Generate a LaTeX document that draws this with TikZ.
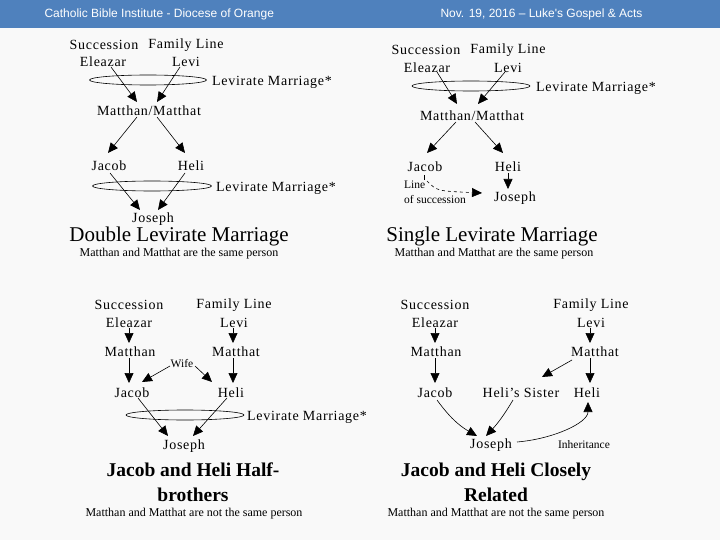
\documentclass[tikz,border=0pt]{standalone}
\usepackage{fontspec}
\setmainfont{Liberation Serif}
\newfontfamily\hdrfont{Liberation Sans}
\newfontfamily\lblfont[LetterSpace=5]{Liberation Serif}
\usepackage{tikz}
\usepackage{xcolor}
\usetikzlibrary{calc,arrows.meta,positioning,shapes.geometric}
\definecolor{bandBlue}{RGB}{79,129,189}
\definecolor{pageGray}{RGB}{249,249,249}
\tikzset{
  lbl/.style={font=\lblfont\fontsize{14}{16}\selectfont,inner sep=1pt},
  smalllbl/.style={font=\fontsize{11.5}{15}\selectfont,inner sep=1pt},
  ttl/.style={font=\fontsize{21}{25}\selectfont,inner sep=0pt},
  bttl/.style={font=\bfseries\fontsize{19.5}{25}\selectfont,align=center,inner sep=0pt},
  note/.style={font=\fontsize{12}{14}\selectfont,inner sep=0pt},
  ring/.style={draw,ellipse,inner sep=0pt,minimum width=117pt,minimum height=10pt,line width=0.6pt},
  arr/.style={-{Triangle[length=10pt,width=9pt]},line width=0.6pt},
  hdr/.style={anchor=west,text=white,font=\hdrfont\fontsize{12}{14}\selectfont},
}

\begin{document}
\begin{tikzpicture}[x=1pt,y=-1pt]
\useasboundingbox (0,0) rectangle (720,540);
\fill[pageGray] (0,0) rectangle (720,540);
\fill[bandBlue] (0,0) rectangle (720,28);
\node[hdr] (hdrL) at (41,14) {Catholic Bible Institute - Diocese of Orange};
\node[hdr] (hdrR) at (437,14) {Nov. 19, 2016 – Luke's Gospel \& Acts};

\node[lbl] (succ1) at (104,45) {Succession};
\node[lbl] (fam1) at (186,45) {Family Line};
\node[lbl] (ele1) at (103,62) {Eleazar};
\node[lbl] (levi1) at (186,62) {Levi};
\node[ring] (ringA) at (148,80) {};
\node[lbl,anchor=west] (lmA) at (211,82) {Levirate Marriage*};
\node[lbl] (mm1) at (149,111) {Matthan/Matthat};
\node[lbl] (jac1) at (109,166) {Jacob};
\node[lbl] (hel1) at (191,166) {Heli};
\node[ring,minimum width=119pt] (ringB) at (152,186) {};
\node[lbl,anchor=west] (lmB) at (215,188) {Levirate Marriage*};
\node[lbl] (jos1) at (153,219) {Joseph};
\node[ttl] (title1) at (179,236) {Double Levirate Marriage};
\node[note] (note1) at (179,254) {Matthan and Matthat are the same person};
\draw[arr] ($(ele1)+(8,5)$) -- ($(mm1)+(-12,-9)$);
\draw[arr] ($(levi1)+(-6,5)$) -- ($(mm1)+(8,-9)$);
\draw[arr] ($(mm1)+(-12,6)$) -- ($(jac1)+(-1,-13)$);
\draw[arr] ($(mm1)+(8,6)$) -- ($(hel1)+(-6,-13)$);
\draw[arr] ($(jac1)+(1,7)$) -- ($(jos1)+(-13,-9)$);
\draw[arr] ($(hel1)+(-6,7)$) -- ($(jos1)+(5,-9)$);

\node[lbl] (succ2) at (426,50) {Succession};
\node[lbl] (fam2) at (508,50) {Family Line};
\node[lbl] (ele2) at (427,68) {Eleazar};
\node[lbl] (levi2) at (508,68) {Levi};
\node[ring,minimum width=118pt] (ringC) at (471,86) {};
\node[lbl,anchor=west] (lmC) at (535,88) {Levirate Marriage*};
\node[lbl] (mm2) at (472,116) {Matthan/Matthat};
\node[lbl] (jac2) at (425,167) {Jacob};
\node[lbl] (hel2) at (508,167) {Heli};
\node[lbl] (jos2) at (515,198) {Joseph};
\node[smalllbl,anchor=north west,align=left] (succline) at (403,180) {Line\\of succession};
\node[ttl] (title2) at (492,236) {Single Levirate Marriage};
\node[note] (note2) at (494,254) {Matthan and Matthat are the same person};
\draw[arr] ($(ele2)+(10,4)$) -- ($(mm2)+(-15,-12)$);
\draw[arr] ($(levi2)+(-3,4)$) -- ($(mm2)+(6,-12)$);
\draw[arr] ($(mm2)+(-16,6)$) -- ($(jac2)+(2,-14)$);
\draw[arr] ($(mm2)+(3,6)$) -- ($(hel2)+(-5,-14)$);
\draw[arr] ($(hel2)+(0,6)$) -- ($(jos2)+(-7,-9)$);
\draw[line width=0.6pt] ($(jac2)+(-1,8)$) -- ($(jac2)+(-1,13)$);
\draw[arr,dashed] ($(jac2)+(2,14)$) .. controls ($(jac2)+(12,24)$) .. ($(jos2)+(-33,-5)$);

\node[lbl] (succ3) at (129,305) {Succession};
\node[lbl] (fam3) at (234,305) {Family Line};
\node[lbl] (ele3) at (129,323) {Eleazar};
\node[lbl] (levi3) at (234,323) {Levi};
\node[lbl] (mat3) at (130,352) {Matthan};
\node[lbl] (mtt3) at (236,352) {Matthat};
\node[smalllbl] (wife3) at (182,364) {Wife};
\node[lbl] (jac3) at (132,393) {Jacob};
\node[lbl] (hel3) at (231,393) {Heli};
\node[ring,minimum width=118pt] (ringD) at (185,415) {};
\node[lbl,anchor=west] (lmD) at (246,417) {Levirate Marriage*};
\node[lbl] (jos3) at (184,446) {Joseph};
\node[bttl] (title3) at (193,482) {Jacob and Heli Half-\\brothers};
\node[note] (note3) at (194,514) {Matthan and Matthat are not the same person};
\draw[arr] ($(ele3)+(0,5)$) -- ($(mat3)+(-1,-9)$);
\draw[arr] ($(levi3)+(-1,5)$) -- ($(mtt3)+(-3,-9)$);
\draw[arr] ($(mat3)+(-1,6)$) -- ($(jac3)+(-3,-10)$);
\draw[arr] ($(mtt3)+(-3,6)$) -- ($(hel3)+(2,-10)$);
\draw[arr] ($(wife3)+(-12,2)$) -- ($(jac3)+(10,-11)$);
\draw[arr] ($(wife3)+(13,2)$) -- ($(hel3)+(-19,-11)$);
\draw[arr] ($(jac3)+(6,5)$) -- ($(jos3)+(-16,-10)$);
\draw[arr] ($(hel3)+(-4,5)$) -- ($(jos3)+(9,-10)$);

\node[lbl] (succ4) at (435,305) {Succession};
\node[lbl] (fam4) at (591,305) {Family Line};
\node[lbl] (ele4) at (435,323) {Eleazar};
\node[lbl] (levi4) at (591,323) {Levi};
\node[lbl] (mat4) at (436,352) {Matthan};
\node[lbl] (mtt4) at (595,352) {Matthat};
\node[lbl] (jac4) at (435,393) {Jacob};
\node[lbl] (sis4) at (521,393) {Heli’s Sister};
\node[lbl] (hel4) at (587,393) {Heli};
\node[lbl] (jos4) at (491,445) {Joseph};
\node[smalllbl] (inh4) at (584,445) {Inheritance};
\node[bttl] (title4) at (496,482) {Jacob and Heli Closely\\Related};
\node[note] (note4) at (496,514) {Matthan and Matthat are not the same person};
\draw[arr] ($(ele4)+(0,5)$) -- ($(mat4)+(-1,-9)$);
\draw[arr] ($(levi4)+(-1,5)$) -- ($(mtt4)+(-5,-9)$);
\draw[arr] ($(mat4)+(-1,6)$) -- ($(jac4)+(0,-10)$);
\draw[arr] ($(mtt4)+(-5,6)$) -- ($(hel4)+(3,-10)$);
\draw[arr] ($(mtt4)+(-23,8)$) -- ($(sis4)+(21,-16)$);
\draw[arr] ($(jac4)+(2,7)$) to[bend right=12] ($(jos4)+(-14,-9)$);
\draw[arr] ($(sis4)+(-8,7)$) to[bend left=6] ($(jos4)+(-5,-9)$);
\draw[arr] ($(jos4)+(26,-3)$) .. controls ($(jos4)+(62,-6)$) and ($(hel4)+(1,30)$) .. ($(hel4)+(1,9)$);
\end{tikzpicture}
\end{document}
